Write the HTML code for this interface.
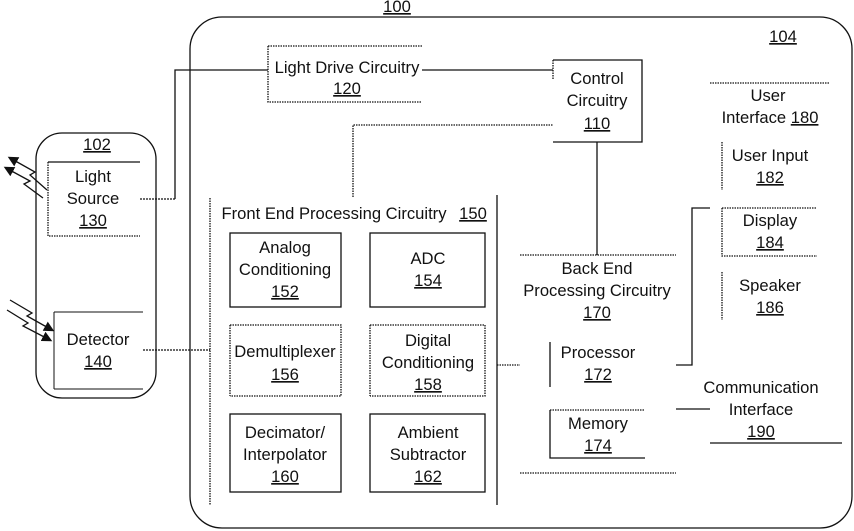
<!DOCTYPE html>
<html><head><style>
body{margin:0;background:#fff}
svg{display:block}
text{font-family:"Liberation Sans",sans-serif;font-size:16.6px;fill:#111;text-anchor:middle}
.u{text-decoration:underline}
</style></head><body>
<svg width="854" height="531" viewBox="0 0 854 531" xmlns="http://www.w3.org/2000/svg">
<defs><marker id="ah" markerWidth="8" markerHeight="8" refX="6" refY="4" orient="auto"><path d="M0,0 L8,4 L0,8 z" fill="#111"/></marker></defs>
<g fill="none" stroke="#111" stroke-width="1.3">
<rect x="190" y="17" width="662" height="511" rx="32"/>
<rect x="36" y="133" width="120" height="265" rx="26"/>
<path d="M48,162 H140"/>
<path d="M48,162 V236 H140" stroke-dasharray="1.5,1"/>
<path d="M54,312 H143 M54,389 H143 M54,312 V389" stroke-width="1"/>
<path d="M140,199 H175" stroke-dasharray="2,1"/>
<path d="M175,199 V70 H268"/>
<path d="M268,46 H422 M268,46 V102 H422" stroke-dasharray="1.5,1"/>
<path d="M422,70 H553"/>
<path d="M553,60 H642 V142 H553" stroke-width="1.3"/>
<path d="M553,60 V80" stroke-dasharray="1.5,1"/>
<path d="M353,197 V125 H553" stroke-dasharray="1.5,1"/>
<path d="M597,142 V255"/>
<path d="M520,255 H676 M520,473 H676" stroke-dasharray="1.5,1"/>
<path d="M210,198 V505" stroke-dasharray="1.5,1"/>
<path d="M497,195 V505"/>
<path d="M143,350 H210" stroke-dasharray="2,1"/>
<rect x="230" y="233" width="111" height="74"/>
<rect x="370" y="233" width="115" height="74"/>
<path d="M230,325 H341 V396 H230" stroke-dasharray="1.5,1"/>
<path d="M370,325 H485 V396 H370" stroke-dasharray="1.5,1"/>
<path d="M230,325 V396 M370,325 V396" stroke-dasharray="1.5,1"/>
<rect x="230" y="414" width="111" height="78"/>
<rect x="370" y="414" width="115" height="78"/>
<path d="M497,365 H520" stroke-dasharray="1.5,1"/>
<path d="M550,342 V387"/>
<path d="M676,365 H692 V208 H710"/>
<path d="M550,410 H645" stroke-dasharray="1.5,1"/>
<path d="M550,410 V458 H645"/>
<path d="M676,409 H710"/>
<path d="M710,443 H842"/>
<path d="M710,83 H829" stroke-dasharray="1.5,1"/>
<path d="M722,142 V190 M722,272 V320" stroke-dasharray="1.5,1"/>
<path d="M722,208 H817 M722,208 V256 H817" stroke-dasharray="1.5,1"/>
<path d="M47,190 L30,175 L35,172 L10,158" marker-end="url(#ah)"/>
<path d="M43,198 L24,184 L30,181 L6,168" marker-end="url(#ah)"/>
<path d="M10,300 L32,313 L27,316 L52,330" marker-end="url(#ah)"/>
<path d="M7,310 L28,323 L23,326 L50,340" marker-end="url(#ah)"/>
</g>
<text x="397" y="12" class="u">100</text>
<text x="783" y="42" class="u">104</text>
<text x="97" y="150" class="u">102</text>
<text x="93" y="182">Light</text><text x="93" y="204">Source</text><text x="93" y="226" class="u">130</text>
<text x="98" y="345">Detector</text><text x="98" y="367" class="u">140</text>
<text x="347" y="73">Light Drive Circuitry</text><text x="347" y="94" class="u">120</text>
<text x="597" y="84">Control</text><text x="597" y="106">Circuitry</text><text x="597" y="129" class="u">110</text>
<text x="334" y="219">Front End Processing Circuitry</text><text x="473" y="219" class="u">150</text>
<text x="285" y="253">Analog</text><text x="285" y="275">Conditioning</text><text x="285" y="297" class="u">152</text>
<text x="428" y="264">ADC</text><text x="428" y="286" class="u">154</text>
<text x="285" y="357">Demultiplexer</text><text x="285" y="380" class="u">156</text>
<text x="428" y="346">Digital</text><text x="428" y="368">Conditioning</text><text x="428" y="390" class="u">158</text>
<text x="285" y="438">Decimator/</text><text x="285" y="460">Interpolator</text><text x="285" y="482" class="u">160</text>
<text x="428" y="438">Ambient</text><text x="428" y="460">Subtractor</text><text x="428" y="482" class="u">162</text>
<text x="597" y="274">Back End</text><text x="597" y="296">Processing Circuitry</text><text x="597" y="318" class="u">170</text>
<text x="598" y="358">Processor</text><text x="598" y="380" class="u">172</text>
<text x="598" y="429">Memory</text><text x="598" y="451" class="u">174</text>
<text x="768" y="101">User</text><text x="770" y="123">Interface <tspan class="u">180</tspan></text>
<text x="770" y="161">User Input</text><text x="770" y="183" class="u">182</text>
<text x="770" y="226">Display</text><text x="770" y="248" class="u">184</text>
<text x="770" y="291">Speaker</text><text x="770" y="313" class="u">186</text>
<text x="761" y="393">Communication</text><text x="761" y="415">Interface</text><text x="761" y="437" class="u">190</text>
</svg>
</body></html>
